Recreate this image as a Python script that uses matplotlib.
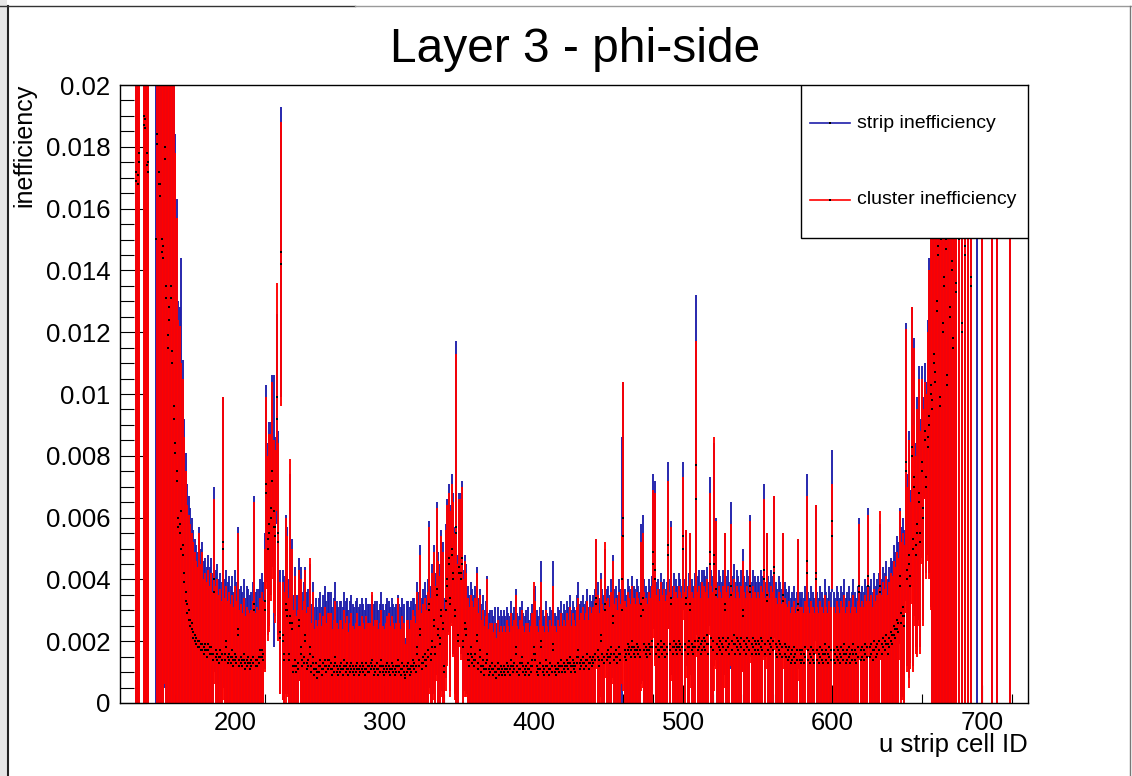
import numpy as np
import matplotlib
matplotlib.use("Agg")
import matplotlib.pyplot as plt
from matplotlib.ticker import MultipleLocator, FuncFormatter
from matplotlib.lines import Line2D
from matplotlib.patches import Rectangle

plt.rcParams['font.family'] = ['Liberation Sans', 'DejaVu Sans']

nan = float('nan')

# strip cell IDs 130..719, values in units of 1e-4
first_strip = 130

clu_val = [
    nan, nan, nan, nan, 169, 168, 175, nan, nan, 187,   # 130
    186, 174, 172, nan, nan, nan, nan, nan, 181, 168,   # 140
    164, 146, 144, 176, 131, 115, 124, 131, 110, 92,    # 150
    81, 72, 57, 55, 50, 48, 39, 33, 29, 27,             # 160
    25, 24, 21, 20, 19, 18, 18, 17, 17, 16,             # 170
    17, 15, 17, 16, 16, 14, 36, 15, 14, 13,             # 180
    15, 14, 50, 14, 18, 13, 14, 13, 15, 12,             # 190
    14, 13, 22, 12, 13, 12, 14, 11, 12, 13,             # 200
    11, 12, 13, 30, 12, 12, 13, 15, 15, 14,             # 210
    30, 68, 50, 55, 60, 72, 57, 54, 99, 52,             # 220
    21, 142, 20, 14, 30, 28, 14, 26, 24, 10,            # 230
    12, 10, 11, 25, 16, 12, 13, 20, 11, 12,             # 240
    16, 10, 13, 9, 11, 8, 10, 12, 9, 11,                # 250
    12, 10, 11, 12, 11, 9, 10, 13, 10, 9,               # 260
    10, 11, 9, 12, 10, 11, 9, 10, 11, 10,               # 270
    9, 10, 11, 9, 10, 11, 10, 9, 11, 10,                # 280
    10, 11, 12, 9, 10, 11, 9, 10, 12, 10,               # 290
    9, 10, 11, 10, 9, 11, 10, 9, 10, 12,                # 300
    10, 9, 11, 10, 8, 10, 11, 9, 10, 12,                # 310
    11, 10, 16, 12, 22, 11, 13, 14, 12, 15,             # 320
    30, 14, 18, 25, 16, 35, 22, 19, 28, 24,             # 330
    10, 30, 38, 45, 32, 48, 40, 28, 55, 20,             # 340
    42, 40, 45, 18, 24, 22, 14, 12, 16, 13,             # 350
    12, 14, 20, 11, 15, 10, 12, 9, 11, 14,              # 360
    9, 10, 11, 9, 10, 8, 11, 9, 10, 9,                  # 370
    10, 9, 11, 10, 9, 12, 10, 11, 16, 10,               # 380
    9, 11, 13, 10, 9, 10, 11, 9, 10, 12,                # 390
    16, 14, 10, 9, 11, 18, 10, 9, 12, 10,               # 400
    9, 11, 10, 17, 10, 9, 11, 10, 12, 10,               # 410
    11, 10, 12, 11, 13, 10, 12, 11, 10, 13,             # 420
    15, 11, 12, 13, 11, 12, 14, 11, 13, 12,             # 430
    13, 14, 32, 15, 12, 20, 14, 13, 30, 14,             # 440
    15, 13, 16, 26, 14, 15, 13, 16, 14, 30,             # 450
    54, 15, 14, 17, 16, 15, 18, 16, 15, 17,             # 460
    16, 15, 28, 30, 17, 16, 15, 17, 16, 18,             # 470
    45, 40, 16, 17, 15, 18, 16, 17, 15, 16,             # 480
    48, 17, 32, 16, 18, 17, 16, 18, 17, 16,             # 490
    50, 17, 32, 16, 18, 30, 17, 16, 18, 66,             # 500
    17, 18, 16, 17, 18, 17, 19, 16, 45, 18,             # 510
    17, 45, 35, 16, 18, 17, 16, 18, 30, 17,             # 520
    18, 16, 35, 17, 19, 16, 18, 17, 16, 18,             # 530
    28, 17, 16, 18, 17, 36, 16, 18, 17, 16,             # 540
    17, 16, 18, 17, 40, 16, 33, 17, 16, 18,             # 550
    17, 42, 16, 15, 17, 16, 15, 33, 16, 15,             # 560
    14, 15, 13, 14, 15, 13, 14, 30, 14, 13,             # 570
    14, 13, 15, 42, 14, 13, 15, 14, 13, 40,             # 580
    14, 13, 15, 14, 13, 16, 14, 13, 15, 14,             # 590
    54, 14, 13, 15, 14, 13, 15, 14, 16, 13,             # 600
    14, 15, 13, 14, 16, 14, 13, 15, 36, 14,             # 610
    15, 14, 16, 15, 38, 15, 16, 14, 17, 15,             # 620
    16, 17, 38, 16, 18, 17, 19, 16, 18, 20,             # 630
    19, 22, 21, 24, 23, 38, 26, 28, 25, 75,             # 640
    40, 45, 38, 80, 50, 70, 48, 55, 65, 52,             # 650
    75, 60, 85, 70, 83, 90, 100, 95, 110, 104,          # 660
    127, 145, 96, 150, 120, 135, 147, 103, 160, 125,    # 670
    140, 115, 155, 133, nan, 150, nan, 120, nan, 145,   # 680
    nan, 250, nan, 135, nan, nan, nan, nan, nan, nan,   # 690
    260, nan, nan, nan, nan, nan, nan, 240, nan, nan,   # 700
    270, nan, nan, nan, nan, nan, nan, nan, nan, 280,   # 710
]

clu_err = [
    0, 0, 0, 0, 260, 260, 255, 0, 0, 240,
    240, 250, 250, 0, 0, 0, 0, 0, 200, 190,
    180, 160, 160, 170, 150, 135, 140, 145, 120, 116,
    97, 85, 67, 67, 60, 57, 47, 42, 35, 34,
    33, 31, 31, 29, 27, 26, 37, 28, 32, 24,
    25, 24, 26, 22, 26, 22, 30, 23, 26, 22,
    22, 19, 49, 20, 20, 20, 22, 19, 20, 19,
    24, 20, 33, 18, 19, 17, 20, 17, 19, 17,
    18, 18, 20, 35, 17, 19, 17, 19, 21, 19,
    20, 31, 30, 32, 27, 32, 28, 28, 37, 32,
    18, 46, 19, 22, 30, 26, 20, 53, 26, 20,
    29, 18, 19, 18, 24, 18, 20, 23, 18, 19,
    31, 16, 23, 15, 16, 17, 17, 17, 16, 17,
    19, 16, 18, 17, 18, 15, 17, 20, 16, 15,
    17, 16, 15, 18, 16, 17, 14, 16, 18, 15,
    15, 16, 18, 16, 15, 17, 16, 15, 17, 16,
    16, 15, 24, 16, 17, 16, 15, 16, 18, 15,
    15, 16, 17, 19, 16, 17, 16, 15, 16, 22,
    16, 15, 17, 16, 11, 17, 16, 15, 17, 18,
    17, 16, 20, 18, 26, 18, 19, 20, 18, 21,
    27, 20, 24, 24, 22, 28, 24, 22, 26, 25,
    20, 26, 26, 23, 30, 23, 25, 27, 58, 25,
    24, 26, 25, 22, 22, 20, 20, 19, 19, 20,
    19, 20, 22, 18, 20, 17, 18, 16, 17, 26,
    15, 16, 15, 14, 16, 13, 16, 14, 15, 14,
    15, 14, 16, 15, 14, 17, 15, 16, 19, 15,
    15, 16, 17, 15, 14, 16, 15, 14, 15, 17,
    23, 19, 15, 14, 16, 21, 15, 14, 18, 15,
    14, 16, 15, 21, 15, 14, 16, 15, 17, 15,
    16, 15, 17, 16, 18, 15, 17, 16, 15, 18,
    19, 16, 17, 18, 16, 17, 19, 16, 18, 17,
    18, 19, 21, 20, 17, 20, 18, 17, 22, 19,
    19, 18, 20, 20, 18, 19, 17, 20, 18, 24,
    50, 18, 17, 19, 18, 17, 20, 18, 17, 19,
    18, 17, 24, 25, 19, 18, 17, 19, 18, 20,
    24, 28, 19, 20, 18, 21, 19, 20, 18, 19,
    24, 19, 25, 18, 20, 19, 18, 20, 19, 18,
    23, 19, 24, 18, 20, 25, 19, 18, 20, 51,
    19, 20, 18, 22, 20, 19, 21, 18, 23, 20,
    19, 41, 24, 18, 20, 19, 18, 20, 25, 19,
    20, 18, 23, 19, 21, 18, 20, 19, 18, 20,
    18, 19, 18, 20, 19, 23, 18, 20, 19, 18,
    19, 18, 20, 19, 26, 18, 22, 19, 18, 20,
    19, 25, 18, 17, 19, 18, 17, 22, 18, 17,
    17, 18, 16, 17, 18, 16, 17, 23, 17, 16,
    17, 16, 18, 25, 17, 16, 18, 17, 16, 24,
    17, 16, 18, 17, 16, 19, 17, 16, 18, 17,
    17, 17, 16, 18, 17, 16, 18, 17, 19, 16,
    17, 18, 16, 17, 19, 17, 16, 18, 22, 17,
    18, 17, 19, 18, 23, 18, 19, 17, 20, 18,
    19, 20, 24, 19, 21, 20, 22, 19, 21, 22,
    22, 24, 23, 25, 24, 24, 26, 27, 26, 46,
    30, 40, 27, 48, 40, 45, 32, 40, 40, 36,
    30, 35, 19, 30, 37, 50, 70, 160, 170, 165,
    180, 190, 170, 190, 180, 185, 190, 170, 200, 185,
    190, 180, 200, 185, 0, 195, 0, 185, 0, 195,
    0, 300, 0, 190, 0, 0, 0, 0, 0, 0,
    300, 0, 0, 0, 0, 0, 0, 300, 0, 0,
    300, 0, 0, 0, 0, 0, 0, 0, 0, 300,
]

str_val = [
    nan, nan, nan, nan, 172, 171, 178, nan, nan, 190,
    189, 178, 175, nan, nan, nan, nan, 150, 184, 172,
    168, 150, 148, 180, 135, 119, 128, 135, 114, 96,
    84, 75, 60, 58, 62, 51, 42, 36, 32, 30,
    27, 26, 23, 22, 21, 20, 20, 19, 19, 18,
    19, 17, 19, 18, 18, 16, 40, 17, 16, 15,
    17, 16, 52, 16, 20, 15, 16, 15, 17, 14,
    16, 15, 24, 14, 15, 14, 16, 13, 14, 15,
    13, 14, 15, 32, 14, 14, 15, 17, 17, 16,
    33, 71, 53, 58, 63, 75, 62, 57, 92, 55,
    23, 146, 22, 16, 32, 30, 16, 28, 26, 12,
    14, 12, 13, 27, 18, 14, 15, 22, 13, 14,
    18, 12, 15, 11, 13, 10, 12, 14, 11, 13,
    14, 12, 14, 14, 13, 11, 12, 15, 12, 11,
    12, 13, 11, 14, 12, 13, 11, 12, 13, 12,
    11, 12, 13, 11, 12, 13, 12, 11, 13, 12,
    12, 13, 14, 11, 12, 13, 11, 12, 14, 12,
    11, 12, 13, 12, 11, 13, 12, 11, 12, 14,
    12, 11, 13, 12, 9, 12, 13, 11, 12, 14,
    13, 12, 18, 14, 24, 13, 15, 16, 14, 17,
    32, 16, 20, 27, 18, 37, 24, 21, 30, 26,
    12, 33, 40, 47, 34, 50, 42, 30, 57, 22,
    44, 42, 47, 20, 26, 24, 16, 14, 18, 15,
    14, 16, 22, 13, 17, 12, 14, 11, 13, 16,
    11, 12, 13, 11, 12, 10, 13, 11, 12, 11,
    12, 11, 13, 12, 11, 14, 12, 13, 18, 12,
    11, 13, 15, 12, 11, 12, 13, 11, 12, 14,
    18, 16, 12, 11, 13, 20, 12, 11, 14, 12,
    11, 13, 12, 19, 12, 11, 13, 12, 14, 12,
    13, 12, 14, 13, 15, 12, 14, 13, 12, 15,
    17, 13, 14, 15, 13, 14, 16, 13, 15, 14,
    15, 16, 34, 17, 14, 22, 16, 15, 32, 16,
    17, 15, 18, 28, 16, 17, 15, 18, 16, 40,
    60, 17, 16, 19, 18, 17, 20, 18, 17, 19,
    18, 17, 32, 34, 19, 18, 17, 19, 18, 20,
    49, 43, 18, 19, 17, 20, 18, 19, 17, 18,
    51, 19, 34, 18, 20, 19, 18, 20, 19, 18,
    54, 19, 34, 18, 20, 32, 19, 18, 20, 77,
    20, 21, 19, 20, 21, 20, 22, 19, 49, 21,
    20, 48, 37, 19, 21, 20, 19, 21, 32, 20,
    21, 19, 38, 20, 22, 19, 21, 20, 19, 21,
    30, 20, 19, 21, 20, 38, 19, 21, 20, 19,
    20, 19, 21, 20, 43, 19, 35, 20, 19, 21,
    20, 44, 19, 18, 20, 19, 18, 35, 19, 18,
    17, 18, 16, 17, 18, 16, 17, 32, 17, 16,
    17, 16, 18, 46, 17, 16, 18, 17, 16, 42,
    17, 16, 18, 17, 16, 19, 17, 16, 18, 17,
    59, 17, 16, 18, 17, 16, 18, 17, 19, 16,
    17, 18, 16, 17, 19, 17, 16, 18, 38, 17,
    18, 17, 19, 18, 41, 18, 19, 17, 20, 18,
    19, 20, 36, 19, 21, 20, 22, 19, 21, 23,
    22, 25, 24, 27, 26, 41, 29, 31, 28, 78,
    43, 48, 41, 83, 53, 73, 51, 58, 68, 55,
    78, 63, 88, 73, 86, 93, 103, 98, 113, 107,
    130, 148, 99, 153, 123, 138, 150, 106, 163, 128,
    143, 118, 158, 136, nan, 153, nan, 123, nan, 148,
    nan, 253, nan, 138, nan, nan, nan, 260, nan, nan,
    263, nan, nan, nan, nan, nan, nan, 243, nan, nan,
    273, nan, nan, nan, nan, nan, nan, nan, nan, 283,
]

str_err = [
    0, 0, 0, 0, 265, 262, 258, 0, 0, 245,
    245, 255, 255, 0, 0, 0, 0, 260, 205, 195,
    185, 165, 165, 175, 155, 140, 145, 150, 125, 120,
    100, 88, 70, 70, 82, 60, 50, 45, 39, 37,
    36, 34, 33, 31, 30, 29, 37, 31, 33, 28,
    28, 27, 29, 26, 29, 26, 30, 26, 29, 25,
    25, 23, 47, 24, 23, 24, 25, 23, 24, 22,
    27, 24, 33, 23, 23, 22, 24, 21, 24, 22,
    22, 22, 24, 35, 22, 23, 22, 23, 25, 23,
    22, 32, 31, 33, 28, 31, 44, 29, 34, 33,
    20, 47, 21, 25, 29, 27, 24, 46, 27, 23,
    30, 23, 22, 20, 26, 22, 24, 22, 23, 23,
    27, 20, 24, 20, 21, 21, 22, 22, 20, 22,
    24, 21, 22, 22, 23, 20, 22, 24, 21, 20,
    21, 20, 20, 22, 21, 21, 19, 21, 22, 20,
    20, 21, 21, 20, 20, 21, 20, 19, 21, 20,
    20, 19, 21, 21, 21, 20, 19, 20, 22, 20,
    19, 20, 21, 21, 20, 21, 20, 20, 20, 21,
    20, 20, 21, 20, 12, 21, 20, 20, 21, 20,
    21, 20, 21, 22, 27, 21, 22, 23, 21, 23,
    27, 22, 25, 24, 24, 28, 25, 24, 26, 26,
    22, 25, 26, 24, 30, 24, 26, 27, 60, 26,
    24, 26, 25, 23, 22, 21, 22, 21, 21, 22,
    21, 22, 22, 21, 20, 20, 21, 19, 20, 25,
    18, 18, 17, 17, 19, 16, 18, 17, 18, 17,
    18, 17, 18, 17, 17, 19, 17, 18, 19, 17,
    17, 18, 18, 17, 17, 18, 18, 16, 17, 18,
    19, 22, 18, 17, 18, 26, 18, 17, 19, 17,
    17, 18, 18, 27, 17, 17, 18, 18, 19, 17,
    19, 18, 19, 18, 20, 18, 19, 18, 18, 20,
    22, 19, 19, 20, 19, 19, 21, 18, 20, 19,
    20, 21, 19, 22, 20, 20, 21, 20, 18, 21,
    21, 20, 22, 20, 21, 21, 20, 22, 21, 46,
    44, 20, 19, 21, 20, 20, 21, 20, 20, 21,
    20, 19, 26, 27, 21, 20, 19, 21, 20, 21,
    25, 29, 21, 21, 20, 22, 21, 21, 20, 21,
    27, 21, 25, 20, 22, 21, 20, 22, 21, 20,
    24, 21, 22, 20, 22, 23, 21, 20, 22, 55,
    21, 22, 20, 23, 22, 21, 22, 20, 24, 22,
    21, 36, 23, 20, 22, 21, 20, 22, 23, 21,
    22, 20, 27, 21, 23, 20, 22, 21, 20, 22,
    20, 21, 20, 22, 21, 23, 20, 22, 21, 20,
    21, 20, 22, 21, 28, 20, 20, 21, 20, 22,
    21, 23, 20, 19, 21, 20, 19, 20, 20, 19,
    19, 20, 18, 19, 20, 18, 19, 21, 19, 18,
    19, 18, 20, 28, 19, 18, 20, 19, 18, 22,
    19, 18, 20, 19, 18, 21, 19, 18, 20, 19,
    23, 19, 18, 20, 19, 18, 20, 19, 21, 18,
    19, 20, 18, 19, 21, 19, 18, 20, 22, 19,
    20, 19, 21, 20, 22, 20, 21, 19, 22, 20,
    21, 22, 22, 21, 23, 22, 24, 21, 23, 24,
    24, 26, 25, 27, 26, 22, 28, 29, 28, 45,
    31, 40, 28, 45, 41, 45, 33, 41, 41, 37,
    31, 36, 22, 31, 38, 51, 72, 165, 175, 170,
    185, 195, 175, 195, 185, 190, 195, 175, 205, 190,
    195, 185, 205, 190, 0, 200, 0, 190, 0, 200,
    0, 305, 0, 195, 0, 0, 0, 310, 0, 0,
    305, 0, 0, 0, 0, 0, 0, 305, 0, 0,
    305, 0, 0, 0, 0, 0, 0, 0, 0, 305,
]

n = len(clu_val)
assert n == len(clu_err) == len(str_val) == len(str_err)

strip = np.arange(first_strip, first_strip + n)
cv = np.array(clu_val) * 1e-4
ce = np.array(clu_err) * 1e-4
sv = np.array(str_val) * 1e-4
se = np.array(str_err) * 1e-4

blue = '#1f1faa'
red = '#ff0000'

fig = plt.figure(figsize=(11.32, 7.76), dpi=100)
ax = fig.add_axes([120/1132, 73/776, 908/1132, 618/776])

ax.errorbar(strip, sv, yerr=se, fmt='none', ecolor=blue, elinewidth=1.35, capsize=0)
ax.errorbar(strip, cv, yerr=ce, fmt='none', ecolor=red, elinewidth=1.35, capsize=0)
ax.plot(strip, sv, 's', color='k', ms=1.8, mew=0)
ax.plot(strip, cv, 's', color='k', ms=1.8, mew=0)

ax.set_xlim(123, 731)
ax.set_ylim(0, 0.02)

ax.xaxis.set_major_locator(MultipleLocator(100))
ax.xaxis.set_minor_locator(MultipleLocator(20))
ax.yaxis.set_major_locator(MultipleLocator(0.002))
ax.yaxis.set_minor_locator(MultipleLocator(0.0005))
ax.yaxis.set_major_formatter(FuncFormatter(lambda v, p: f'{v:g}'))
ax.xaxis.set_major_formatter(FuncFormatter(lambda v, p: f'{v:g}'))

ax.tick_params(axis='both', which='both', direction='in', width=0.8,
               top=False, right=False, labelsize=18.5)
ax.tick_params(axis='y', which='major', length=19.5, pad=7)
ax.tick_params(axis='y', which='minor', length=10)
ax.tick_params(axis='x', which='major', length=13, pad=6)
ax.tick_params(axis='x', which='minor', length=6.5)
for s in ax.spines.values():
    s.set_linewidth(1.0)

# titles
fig.text(575/1132, 1 - 62/776, 'Layer 3 - phi-side', ha='center', va='baseline', fontsize=34.5)
fig.text(1028/1132, 1 - 752/776, 'u strip cell ID', ha='right', va='baseline', fontsize=18.5)
fig.text(24/1132, 1 - 84/776, 'inefficiency', ha='center', va='top', rotation=90, fontsize=18)

# legend box
ax.add_patch(Rectangle((0.75, 0.7524), 0.25, 0.2476, transform=ax.transAxes,
                       facecolor='white', edgecolor='black', lw=1.0, zorder=10))
x0 = (810 - 120) / 908
x1 = (850 - 120) / 908
for py, col, lab in [(123, blue, 'strip inefficiency'), (200, red, 'cluster inefficiency')]:
    yy = (703 - py) / 618
    ax.add_line(Line2D([x0, x1], [yy, yy], color=col, lw=1.2, transform=ax.transAxes, zorder=11))
    ax.plot([(x0 + x1) / 2], [yy], 's', color='k', ms=1.6, mew=0, transform=ax.transAxes, zorder=12)
    ax.text((857 - 120) / 908, yy, lab, transform=ax.transAxes, ha='left', va='center',
            fontsize=14, zorder=12)

# window frame of the screenshot
fig.add_artist(Rectangle((0, 0), 7/1132, 1, transform=fig.transFigure, facecolor='#e6e6e6', edgecolor='none'))
fig.add_artist(Line2D([8/1132, 8/1132], [0, 1 - 6/776], color='#222222', lw=1.5, transform=fig.transFigure))
fig.add_artist(Line2D([0, 355/1132], [1 - 6/776, 1 - 6/776], color='#333333', lw=1.0, transform=fig.transFigure))
fig.add_artist(Line2D([355/1132, 1], [1 - 6/776, 1 - 6/776], color='#9a9a9a', lw=1.0, transform=fig.transFigure))
fig.add_artist(Line2D([1130/1132, 1130/1132], [0, 1 - 6/776], color='#777777', lw=1.0, transform=fig.transFigure))

fig.savefig('out.png', dpi=100)
